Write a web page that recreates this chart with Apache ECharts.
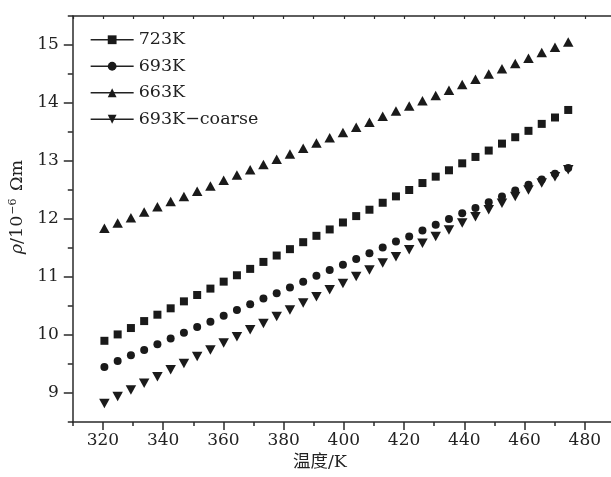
<!DOCTYPE html>
<html>
<head>
<meta charset="utf-8">
<script src="https://cdn.jsdelivr.net/npm/echarts@6/dist/echarts.min.js"></script>
<style>html,body{margin:0;padding:0;background:#fff}#c{width:611px;height:477px}</style>
</head>
<body>
<div id="c"></div>
<script>
var temps = [320.5, 324.9, 329.3, 333.7, 338.1, 342.5, 346.9, 351.3, 355.7, 360.1, 364.5, 368.9, 373.3, 377.7, 382.1, 386.5, 390.9, 395.3, 399.7, 404.1, 408.5, 412.9, 417.3, 421.7, 426.1, 430.5, 434.9, 439.3, 443.7, 448.1, 452.5, 456.9, 461.3, 465.7, 470.1, 474.5];
var seriesNames = ['723K', '693K', '663K', '693K\u2212coarse'];
var rho723 = [9.90, 10.01, 10.12, 10.24, 10.35, 10.46, 10.58, 10.69, 10.80, 10.92, 11.03, 11.14, 11.26, 11.37, 11.48, 11.60, 11.71, 11.82, 11.94, 12.05, 12.16, 12.28, 12.39, 12.50, 12.62, 12.73, 12.84, 12.96, 13.07, 13.18, 13.30, 13.41, 13.52, 13.64, 13.75, 13.88];
var rho693 = [9.45, 9.55, 9.65, 9.74, 9.84, 9.94, 10.04, 10.14, 10.23, 10.33, 10.43, 10.53, 10.63, 10.72, 10.82, 10.92, 11.02, 11.12, 11.21, 11.31, 11.41, 11.51, 11.61, 11.70, 11.80, 11.90, 12.00, 12.10, 12.19, 12.29, 12.39, 12.49, 12.59, 12.68, 12.78, 12.88];
var rho663 = [11.84, 11.93, 12.02, 12.12, 12.21, 12.30, 12.39, 12.48, 12.57, 12.67, 12.76, 12.85, 12.94, 13.03, 13.12, 13.22, 13.31, 13.40, 13.49, 13.58, 13.67, 13.77, 13.86, 13.95, 14.04, 14.13, 14.22, 14.32, 14.41, 14.50, 14.59, 14.68, 14.77, 14.87, 14.96, 15.05];
var rho693c = [8.82, 8.94, 9.05, 9.17, 9.28, 9.40, 9.51, 9.63, 9.74, 9.86, 9.97, 10.09, 10.20, 10.32, 10.43, 10.55, 10.66, 10.78, 10.89, 11.01, 11.12, 11.24, 11.35, 11.47, 11.58, 11.70, 11.81, 11.93, 12.04, 12.16, 12.27, 12.39, 12.50, 12.62, 12.73, 12.85];
var xMajorTicks = [320, 340, 360, 380, 400, 420, 440, 460, 480];
var xMinorTicks = [310, 330, 350, 370, 390, 410, 430, 450, 470];
var xTopTicks = [310, 320, 330, 340, 350, 360, 370, 380, 390, 400, 410, 420, 430, 440, 450, 460, 470, 480];
var yMajorTicks = [9, 10, 11, 12, 13, 14, 15];
var yMinorTicks = [8.5, 9.5, 10.5, 11.5, 12.5, 13.5, 14.5, 15.5];
var xTitle = '温度/K';

var FONT = "'DejaVu Serif', 'Liberation Serif', 'Noto Sans CJK SC', serif";
var INK = '#1a1a1a';
var TXT = '#222';
function pairs(ys) { return temps.map(function (t, i) { return [t, ys[i]]; }); }

var chart = echarts.init(document.getElementById('c'), null, {renderer: 'canvas'});
var axisLine = {show: true, lineStyle: {color: '#2a2a2a', width: 1.5}};
var baseX = {type: 'value', min: 310, max: 488.7, splitLine: {show: false}};
var baseY = {type: 'value', min: 8.5, max: 15.5, splitLine: {show: false}};

function mkSeries(name, ys, symbol, size, rotate) {
  return {
    name: name, type: 'line', data: pairs(ys), xAxisIndex: 0, yAxisIndex: 0,
    symbol: symbol, symbolSize: size, symbolRotate: rotate || 0, showSymbol: true,
    lineStyle: {width: 0, opacity: 0}, itemStyle: {color: INK}, z: 5
  };
}

chart.setOption({
  animation: false,
  backgroundColor: '#fff',
  grid: {left: 68, top: 16, right: 0, bottom: 55},
  legend: {
    orient: 'vertical', left: 90, top: 31, padding: 0, itemWidth: 43, itemHeight: 11, itemGap: 9,
    selectedMode: false,
    textStyle: {fontFamily: FONT, fontSize: 17.5, color: TXT},
    lineStyle: {color: '#222', width: 1.3, opacity: 1},
    data: seriesNames
  },
  xAxis: [
    Object.assign({}, baseX, {
      position: 'bottom', axisLine: axisLine,
      axisTick: {show: true, customValues: xMajorTicks, length: 8, lineStyle: {color: '#2a2a2a', width: 1.5}},
      axisLabel: {customValues: xMajorTicks, margin: 10, fontFamily: FONT, fontSize: 17, color: TXT},
      name: xTitle, nameLocation: 'middle', nameGap: 30,
      nameTextStyle: {fontFamily: FONT, fontSize: 17.5, color: TXT, padding: [0, 44, 0, 0]}
    }),
    Object.assign({}, baseX, {
      position: 'bottom', axisLine: {show: false},
      axisTick: {show: true, customValues: xMinorTicks, length: 4, lineStyle: {color: '#2a2a2a', width: 1.5}},
      axisLabel: {show: false}
    }),
    Object.assign({}, baseX, {
      position: 'top', axisLine: axisLine,
      axisTick: {show: true, inside: true, customValues: xTopTicks, length: 3, lineStyle: {color: '#2a2a2a', width: 1.2}},
      axisLabel: {show: false}
    })
  ],
  yAxis: [
    Object.assign({}, baseY, {
      position: 'left', axisLine: axisLine,
      axisTick: {show: true, customValues: yMajorTicks, length: 9, lineStyle: {color: '#2a2a2a', width: 1.5}},
      axisLabel: {customValues: yMajorTicks, margin: 14, fontFamily: FONT, fontSize: 17, color: TXT},
      name: '{i|ρ}/10{sup|−6} Ωm', nameLocation: 'middle', nameGap: 36,
      nameTextStyle: {
        fontFamily: FONT, fontSize: 17.5, color: TXT, padding: [0, 0, 0, 24],
        rich: {
          i: {fontFamily: FONT, fontSize: 17.5, fontStyle: 'italic', color: TXT},
          sup: {fontFamily: FONT, fontSize: 11, color: TXT, verticalAlign: 'top', padding: [0, 2, 8, 1]}
        }
      }
    }),
    Object.assign({}, baseY, {
      position: 'left', axisLine: {show: false},
      axisTick: {show: true, customValues: yMinorTicks, length: 5, lineStyle: {color: '#2a2a2a', width: 1.5}},
      axisLabel: {show: false}
    })
  ],
  series: [
    mkSeries(seriesNames[0], rho723, 'rect', 8),
    mkSeries(seriesNames[1], rho693, 'circle', 8),
    mkSeries(seriesNames[2], rho663, 'triangle', [10.5, 9.5]),
    mkSeries(seriesNames[3], rho693c, 'triangle', [10.5, 9.5], 180)
  ]
});
</script>
</body>
</html>
